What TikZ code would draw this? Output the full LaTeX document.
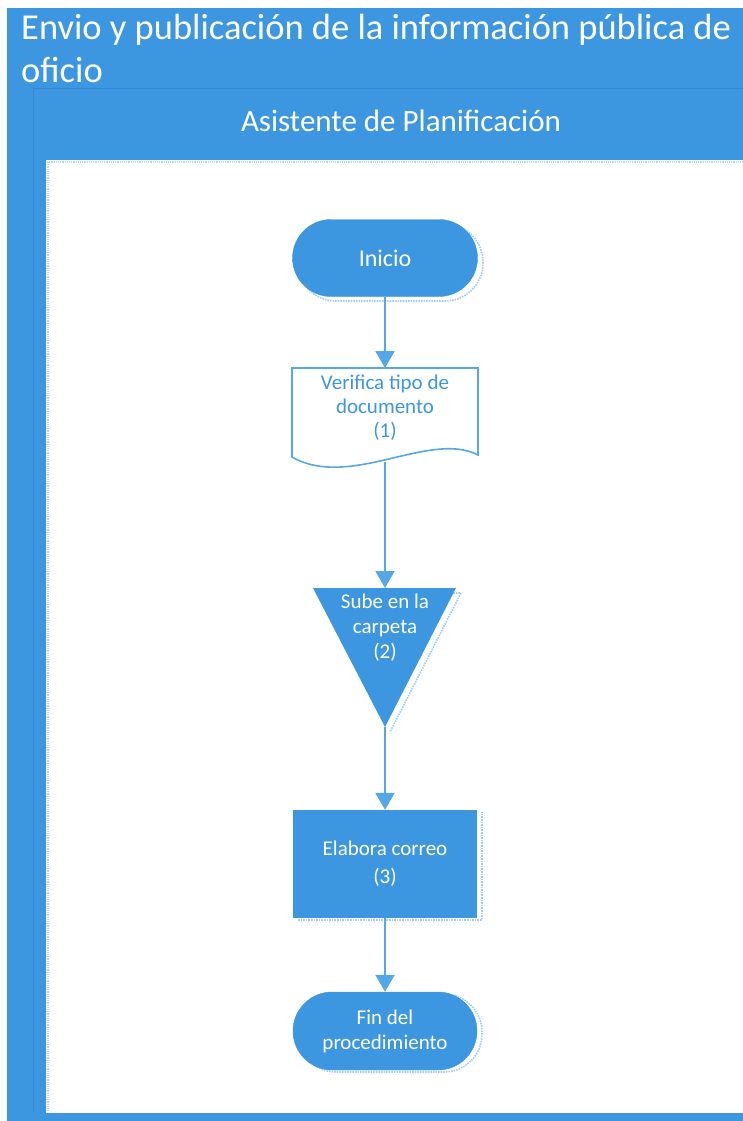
\documentclass[tikz,border=0pt]{standalone}
\usepackage{fontspec}
\setmainfont{Carlito}
\usetikzlibrary{arrows.meta,shapes.misc}
\definecolor{bl}{RGB}{61,151,224}
\definecolor{ln}{RGB}{84,168,232}
\definecolor{edge}{RGB}{52,138,208}
\tikzset{
  flow/.style={draw=ln, line width=2.2pt, -{Triangle[length=17pt,width=19pt]}},
  shad/.style={draw=ln!55, densely dotted, line width=1.6pt},
  boxtext/.style={font=\fontsize{21}{24}\selectfont, align=center, inner sep=0pt},
  titletext/.style={anchor=base west, text=white, font=\fontsize{36.5}{44}\selectfont, inner sep=0pt},
  stadiumbox/.style={rounded rectangle, fill=bl, draw=bl, minimum width=185pt, minimum height=77pt, text=white, boxtext},
}
\begin{document}
\begin{tikzpicture}[x=1pt,y=-1pt]
\useasboundingbox (0,0) rectangle (743,1121);
% pool and lane
\fill[bl] (7,8) rectangle (743,1121);
\draw[edge, line width=0.5pt] (33,88) -- (743,88);
\draw[edge, line width=0.5pt] (33,88) -- (33,1113);
\fill[white] (46,160) rectangle (743,1113);
\draw[ln!45, densely dotted, line width=1.2pt] (47,162) -- (743,162);
\draw[ln!45, densely dotted, line width=1.2pt] (48,162) -- (48,1111);
\node[titletext] (title) at (21,40) {Envio y publicación de la información pública de};
\node[titletext] (title2) at (21,83) {oficio};
\node[text=white, font=\fontsize{31}{34}\selectfont, inner sep=0pt] (lane) at (401,121) {Asistente de Planificación};

% Inicio
\draw[shad, rounded corners=38pt] (298,224) rectangle (483,301);
\node[stadiumbox, font=\fontsize{24}{28}\selectfont] (inicio) at (385,258) {Inicio};

% Document
\draw[draw=ln, line width=1.6pt, fill=white] (292,368) -- (478,368) -- (478,455)
  .. controls (430,430) and (350,490) .. (292,457) -- cycle;
\coordinate (doctop) at (385,368);
\coordinate (docbot) at (385,462);
\node[boxtext, text=bl] (doc) at (385,408) {Verifica tipo de\\documento\\(1)};

% Triangle
\draw[shad] (318,593) -- (461,593) -- (390,732);
\fill[bl] (313,588) -- (456,588) -- (385,727) -- cycle;
\coordinate (tritop) at (385,588);
\coordinate (tribot) at (385,727);
\node[boxtext, font=\fontsize{21}{25}\selectfont, text=white] (tri) at (385,628) {Sube en la\\carpeta\\(2)};

% Process
\draw[shad] (298,920) -- (482,920) -- (482,812);
\node[fill=bl, minimum width=184pt, minimum height=108pt, text=white, boxtext, font=\fontsize{21}{28}\selectfont] (proc) at (385,864) {Elabora correo\\(3)};

% Fin
\draw[shad, rounded corners=38pt] (298,994) rectangle (482,1072);
\node[stadiumbox, minimum width=184pt, minimum height=78pt, font=\fontsize{21}{25}\selectfont] (fin) at (385,1031) {Fin del\\procedimiento};

% connectors
\draw[flow] (inicio.south) -- (doctop);
\draw[flow] (docbot) -- (tritop);
\draw[flow] (tribot) -- (proc.north);
\draw[flow] (proc.south) -- (fin.north);
\end{tikzpicture}
\end{document}
